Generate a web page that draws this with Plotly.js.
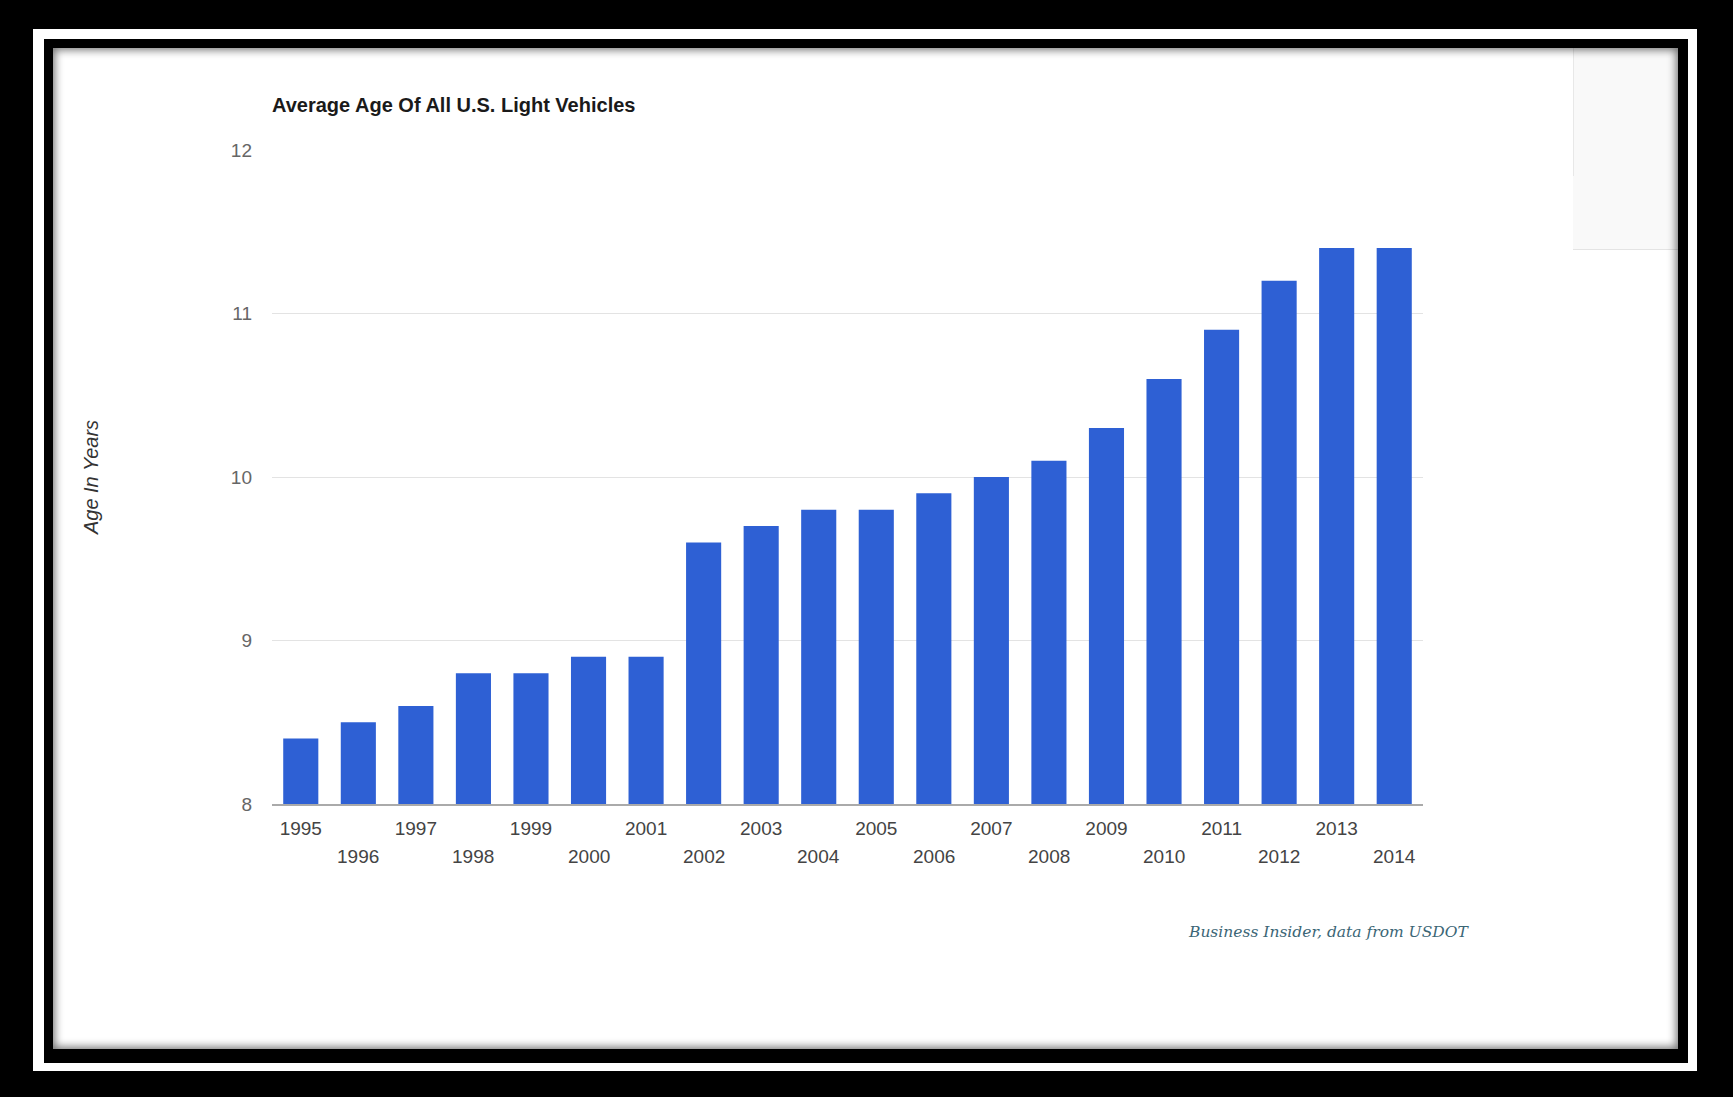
<!DOCTYPE html>
<html>
<head>
<meta charset="utf-8">
<script src="https://cdn.plot.ly/plotly-3.0.1.min.js"></script>
<style>
  html, body { margin: 0; padding: 0; background: #000; width: 1733px; height: 1097px; overflow: hidden; }
  #band { position: absolute; left: 33px; top: 29px; width: 1664px; height: 1042px; background: #fff; }
  #inner { position: absolute; left: 44px; top: 39px; width: 1644px; height: 1024px; background: #000; }
  #chart { position: absolute; left: 53px; top: 48px; width: 1625px; height: 1001px; background: #fff; }
  #panel { position: absolute; left: 1573px; top: 48px; width: 105px; height: 201px; background: #f9f9f9;
           border-bottom: 1px solid #e4e4e4; pointer-events: none; }
  #vline { position: absolute; left: 1573px; top: 48px; width: 1px; height: 128px; background: #e8e8e8; pointer-events: none; }
  #shadow { position: absolute; left: 53px; top: 48px; width: 1625px; height: 1001px;
            box-shadow: inset 0 0 9px 2px rgba(0,0,0,0.55); pointer-events: none; }
</style>
</head>
<body>
<div id="band"></div>
<div id="inner"></div>
<div id="chart"></div>
<div id="panel"></div>
<div id="vline"></div>
<div id="shadow"></div>
<script>
// Data
const years = ['1995','1996','1997','1998','1999','2000','2001','2002','2003','2004',
               '2005','2006','2007','2008','2009','2010','2011','2012','2013','2014'];
const avgAge = [8.4, 8.5, 8.6, 8.8, 8.8, 8.9, 8.9, 9.6, 9.7, 9.8,
                9.8, 9.9, 10.0, 10.1, 10.3, 10.6, 10.9, 11.2, 11.4, 11.4];
const yTicks = [8, 9, 10, 11, 12];
const chartTitle = 'Average Age Of All U.S. Light Vehicles';
const yTitle = 'Age In Years';
const sourceNote = 'Business Insider, data from USDOT';

// Alternating two-row tick labels: even positions on the first row (native ticks), odd positions on the second row
const firstRowText = years.map((y, i) => (i % 2 === 0 ? y : ''));

const labelFont = { family: 'Liberation Sans, Arial, sans-serif', size: 19, color: '#444' };

const annotations = [];
years.forEach((y, i) => {
  if (i % 2 === 1) {
    annotations.push({
      x: i, xref: 'x', y: 0, yref: 'paper', yanchor: 'top', xanchor: 'center',
      yshift: -40, showarrow: false, text: y, font: labelFont
    });
  }
});
annotations.push({
  x: 1.042, xref: 'paper', y: -0.196, yref: 'paper', xanchor: 'right', yanchor: 'middle',
  showarrow: false, text: '<i>' + sourceNote + '</i>',
  font: { family: 'DejaVu Serif, serif', size: 15.5, color: '#3b6676' }
});

const trace = {
  type: 'bar', x: years, y: avgAge,
  marker: { color: '#2e60d4' },
  hoverinfo: 'x+y'
};

const layout = {
  width: 1625, height: 1001,
  margin: { l: 219, r: 255, t: 102, b: 245 },
  paper_bgcolor: '#fff', plot_bgcolor: '#fff',
  bargap: 0.39,
  showlegend: false,
  title: {
    text: '<b>' + chartTitle + '</b>',
    x: 0, xref: 'paper', xanchor: 'left',
    y: 0.943, yref: 'container', yanchor: 'middle',
    font: { family: 'Liberation Sans, Arial, sans-serif', size: 20, color: '#1a1a1a' }
  },
  xaxis: {
    type: 'category', range: [-0.5, years.length - 0.5], autorange: false,
    tickmode: 'array', tickvals: years, ticktext: firstRowText,
    tickfont: labelFont, ticks: '', ticklabelstandoff: 7,
    showgrid: false, showline: true, linecolor: '#aaa', linewidth: 1.5,
    zeroline: false, fixedrange: true
  },
  yaxis: {
    range: [8, 12], autorange: false, tickmode: 'array', tickvals: yTicks,
    tickfont: { family: 'Liberation Sans, Arial, sans-serif', size: 19, color: '#666' },
    ticks: '', ticklabelstandoff: 19,
    showgrid: true, gridcolor: '#e3e3e3', gridwidth: 1,
    zeroline: false, showline: false, fixedrange: true,
    title: {
      text: '<i>' + yTitle + '</i>', standoff: 126,
      font: { family: 'Liberation Sans, Arial, sans-serif', size: 20, color: '#333' }
    }
  },
  annotations: annotations
};

Plotly.newPlot('chart', [trace], layout, { displayModeBar: false, staticPlot: true });
</script>
</body>
</html>
